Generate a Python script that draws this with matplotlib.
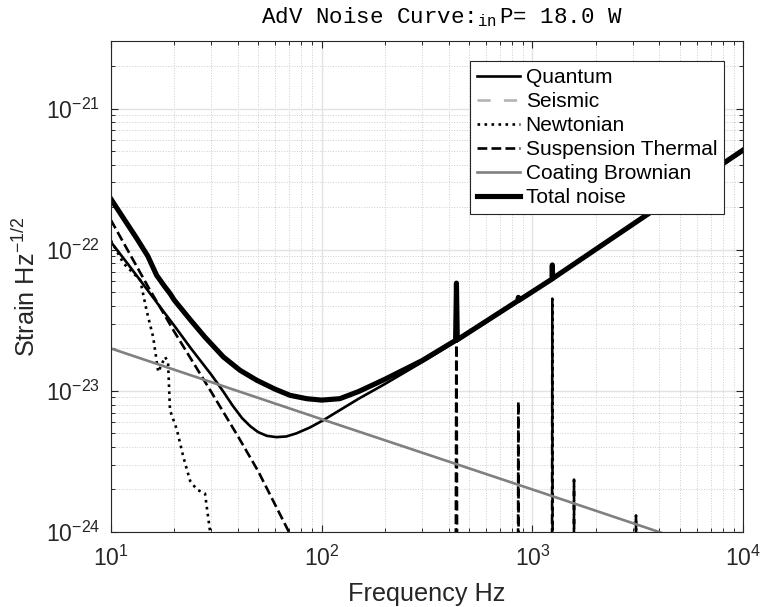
import matplotlib
matplotlib.use("Agg")
import matplotlib.pyplot as plt
from matplotlib.ticker import LogLocator, NullFormatter

plt.rcParams['font.family'] = ['Liberation Sans', 'DejaVu Sans']
plt.rcParams['mathtext.default'] = 'regular'
plt.rcParams['axes.unicode_minus'] = False

# values (frequency in Hz, strain in 1/sqrt(Hz))
quantum_f = [10, 12, 14, 17, 20, 24, 30, 34, 38, 42, 46, 50, 55, 61, 68, 76, 88, 102, 122,
             150, 200, 300, 436, 1000, 3000, 10000]
quantum_h = [1.14e-22, 8.0e-23, 5.9e-23, 4.0e-23, 2.9e-23, 2.0e-23, 1.3e-23, 1.0e-23, 7.8e-24, 6.4e-24,
             5.6e-24, 5.1e-24, 4.8e-24, 4.7e-24, 4.75e-24, 5.0e-24, 5.5e-24, 6.2e-24, 7.3e-24,
             8.8e-24, 1.12e-23, 1.6e-23, 2.25e-23, 5.0e-23, 1.5e-22, 5.0e-22]

seismic_f = [10, 15, 20, 30]
seismic_h = [4e-25, 2e-26, 1e-27, 1e-29]

newton_f = [10, 11.5, 13.8, 14.8, 15.9, 16.8, 18.1, 18.7, 19.1, 20.6, 22.1, 23.8, 25.6, 28.0, 29.6, 32, 40]
newton_h = [1.17e-22, 8.0e-23, 6.1e-23, 3.7e-23, 2.4e-23, 1.36e-23, 1.74e-23, 1.6e-23, 7.3e-24, 5.3e-24,
            3.4e-24, 2.3e-24, 2.0e-24, 1.87e-24, 1.0e-24, 6e-25, 1e-25]

susp_f = [10, 15, 20, 30, 40, 50, 70, 100, 200, 430, 436, 442, 850, 857, 864, 1235, 1242, 1249,
          1566, 1574, 1582, 3085, 3097, 3109, 10000]
susp_h = [1.63e-22, 5.5e-23, 2.63e-23, 9.8e-24, 4.8e-24, 2.7e-24, 1.0e-24, 3.9e-25, 6e-26, 1e-26, 5.3e-23, 1e-26,
          1e-26, 8.4e-24, 1e-26, 1e-26, 4.5e-23, 1e-26, 1e-26, 2.35e-24, 1e-26, 1e-26, 1.31e-24, 1e-26, 1e-26]

coating_f = [10, 100, 1000, 10000]
coating_h = [2.0e-23, 6.3e-24, 2.0e-24, 6.3e-25]

total_f = [10, 11.5, 13.3, 15, 16.5, 18, 19.1, 20, 23.8, 28, 34.2, 41, 49.2, 60, 70.8, 85, 100, 122, 150, 200,
           300, 432, 436, 440, 853, 857, 861, 1238, 1242, 1246, 3000, 10000]
total_h = [2.3e-22, 1.67e-22, 1.2e-22, 9.0e-23, 6.6e-23, 5.5e-23, 4.9e-23, 4.4e-23, 3.2e-23, 2.4e-23, 1.74e-23,
           1.4e-23, 1.19e-23, 1.03e-23, 9.3e-24, 8.8e-24, 8.6e-24, 8.8e-24, 9.9e-24, 1.21e-23,
           1.64e-23, 2.28e-23, 5.8e-23, 2.3e-23, 4.35e-23, 4.6e-23, 4.37e-23, 6.2e-23, 7.8e-23, 6.25e-23,
           1.52e-22, 5.1e-22]

x_ticks = [10, 100, 1000, 10000]
y_ticks = [1e-24, 1e-23, 1e-22, 1e-21]

fig = plt.figure(figsize=(7.61, 6.07), dpi=100)
ax = fig.add_axes([0.1455, 0.1236, 0.8313, 0.8084])

ax.loglog(quantum_f, quantum_h, color='black', lw=1.9, label='Quantum')
ax.loglog(seismic_f, seismic_h, color='#b4b4b4', lw=1.9, dashes=(5, 5), label='Seismic')
ax.loglog(newton_f, newton_h, color='black', lw=1.9, ls=':', label='Newtonian')
ax.loglog(susp_f, susp_h, color='black', lw=1.9, ls='--', label='Suspension Thermal')
ax.loglog(coating_f, coating_h, color='#808080', lw=1.9, label='Coating Brownian')
ax.loglog(total_f, total_h, color='black', lw=3.7, label='Total noise')

ax.set_xticks(x_ticks)
ax.set_yticks(y_ticks)
ax.xaxis.set_minor_locator(LogLocator(base=10, subs=range(2, 10), numticks=20))
ax.yaxis.set_minor_locator(LogLocator(base=10, subs=range(2, 10), numticks=20))
ax.xaxis.set_minor_formatter(NullFormatter())
ax.yaxis.set_minor_formatter(NullFormatter())
ax.set_xlim(10, 1e4)
ax.set_ylim(1e-24, 3e-21)

ax.grid(True, which='major', color='#e2e2e2', lw=1.0)
ax.grid(True, which='minor', color='#cdcdcd', lw=0.7, ls=':')
ax.set_axisbelow(True)
ax.tick_params(which='both', direction='in', top=True, right=True, colors='#262626', labelsize=16.5)
ax.tick_params(axis='x', pad=10)
ax.tick_params(axis='y', pad=7.5)
ax.tick_params(which='major', length=4.8, width=0.8)
ax.tick_params(which='minor', length=2.9, width=0.7)
for s in ax.spines.values():
    s.set_color('#262626')
    s.set_linewidth(0.8)

ax.set_xlabel('Frequency Hz', fontsize=18.2, color='#262626', labelpad=8)
ax.set_ylabel('Strain Hz$^{-1/2}$', fontsize=18.2, color='#262626', labelpad=4)
ax.set_title(r'AdV Noise Curve:$_{in}\!\!\!$ P= 18.0 W', fontsize=16.2, family='Liberation Mono',
             pad=13, x=0.524)

leg = ax.legend(loc='upper right', bbox_to_anchor=(0.970, 0.960), borderaxespad=0, fontsize=15,
                frameon=True, fancybox=False, framealpha=1, edgecolor='#262626',
                handlelength=2.07, handletextpad=0.25, labelspacing=0.24, borderpad=0.35)
leg.get_frame().set_linewidth(0.8)

fig.savefig('out.png', dpi=100)
